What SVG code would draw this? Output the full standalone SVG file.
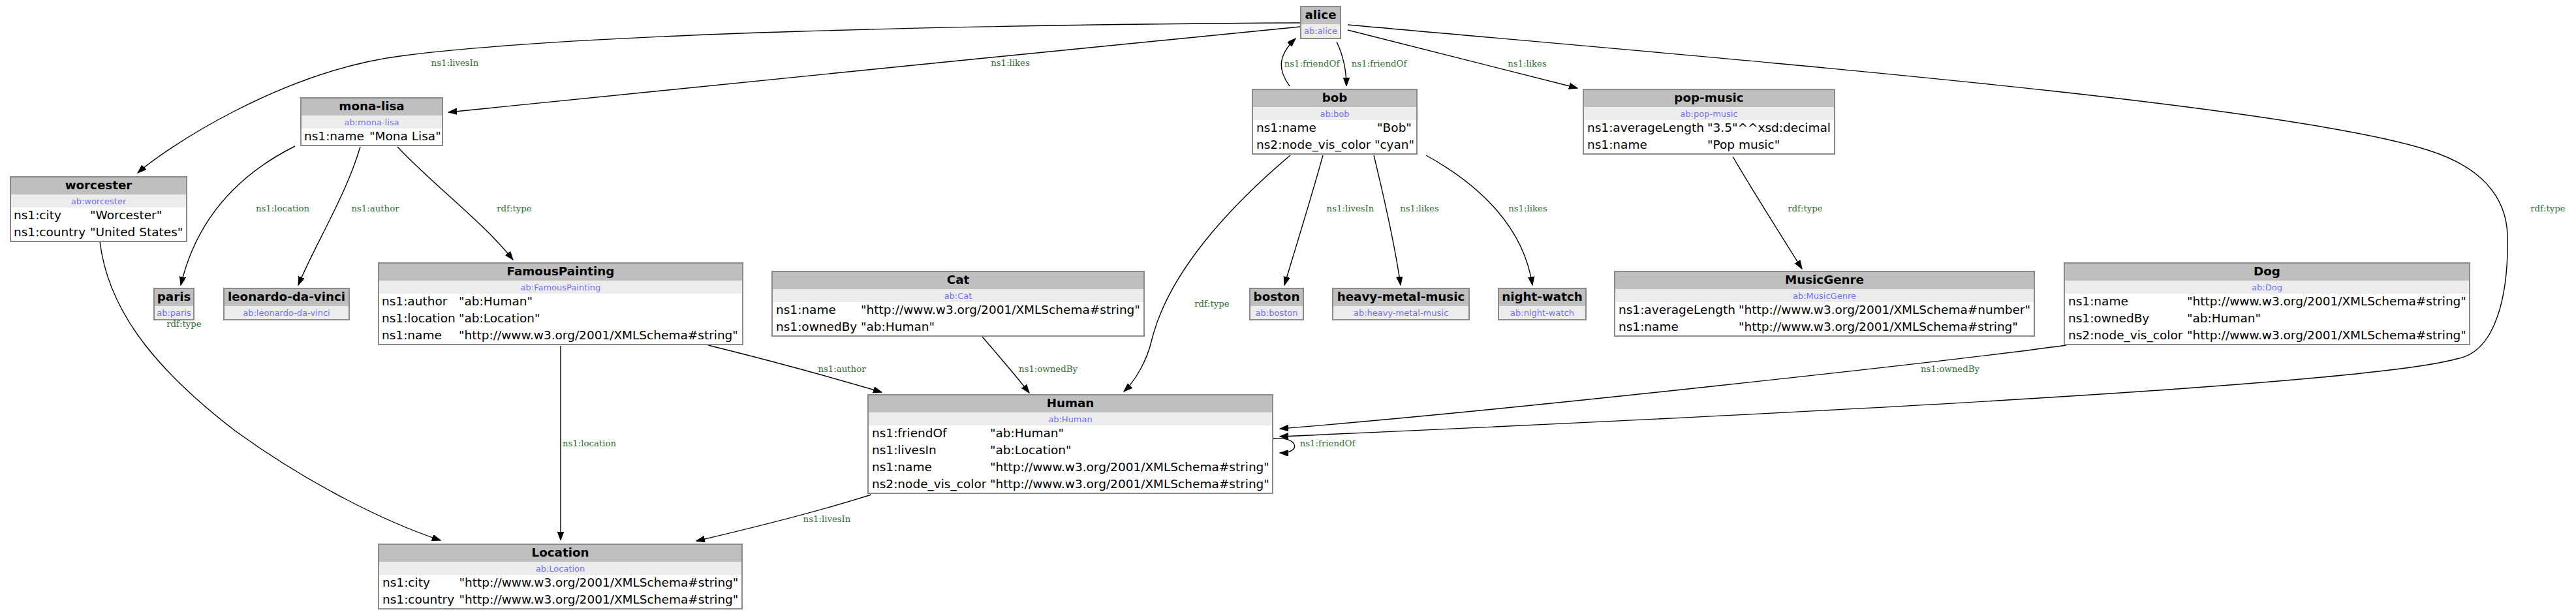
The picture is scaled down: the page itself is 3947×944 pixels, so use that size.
<svg xmlns="http://www.w3.org/2000/svg" width="3947" height="944" viewBox="0 0 3947 944">
<style>
.bg{fill:#fff}
.hd{fill:#bfbfbf}
.sb{fill:#ececec}
.ol{fill:none;stroke:#8a8a8a;stroke-width:2}
.h{font-family:"DejaVu Sans",sans-serif;font-size:18.3px;font-weight:bold;text-anchor:middle;fill:#000}
.s{font-family:"DejaVu Sans",sans-serif;font-size:13px;text-anchor:middle;fill:#7070ff}
.t{font-family:"DejaVu Sans",sans-serif;font-size:18.5px;fill:#000}
.e{fill:none;stroke:#000;stroke-width:1.4;marker-end:url(#ah)}
.l{font-family:"DejaVu Serif",serif;font-size:13.3px;text-anchor:middle;fill:#2f6e2f}
</style>
<defs>
<marker id="ah" markerUnits="userSpaceOnUse" markerWidth="14" markerHeight="10" refX="13" refY="4.7" orient="auto" viewBox="0 0 14 10">
<path d="M0,0 L13,4.7 L0,9.4 z" fill="#000" stroke="#000" stroke-width="1"/>
</marker>
</defs>
<rect width="3947" height="944" fill="#fff"/>
<g id="connectors">
<path class="e" d="M1992,35 C1500,38 900,50 620,85 C430,108 250,230 211,265"/>
<path class="e" d="M1992,41 C1600,78 1000,142 687,172"/>
<path class="e" d="M2048,64 C2058,85 2063,106 2063,132"/>
<path class="e" d="M1976,132 C1960,110 1955,88 1985,59"/>
<path class="e" d="M2065,46 C2200,80 2330,112 2417,135"/>
<path class="e" d="M2065,38 C2700,95 3500,160 3720,230 C3800,255 3840,300 3842,360 C3844,450 3825,540 3764,550 C3600,595 2500,645 1961,669"/>
<path class="e" d="M3166,529 C3000,552 2300,630 1961,657"/>
<path class="e" d="M1977,238 C1880,320 1790,420 1765,520 C1757,555 1738,585 1722,600"/>
<path class="e" d="M2027,238 C2010,300 1985,380 1968,437"/>
<path class="e" d="M2105,238 C2120,300 2138,380 2146,437"/>
<path class="e" d="M2185,238 C2270,285 2335,350 2348,437"/>
<path class="e" d="M2655,240 C2690,300 2735,370 2761,412"/>
<path class="e" d="M452,224 C360,270 300,340 277,437"/>
<path class="e" d="M552,225 C530,300 480,380 457,437"/>
<path class="e" d="M609,225 C660,280 740,340 786,398"/>
<path class="e" d="M153,370 C165,470 230,560 360,660 C470,740 590,800 675,828"/>
<path class="e" d="M859,530 L859,828"/>
<path class="e" d="M1085,529 C1170,550 1280,580 1351,601"/>
<path class="e" d="M1505,516 C1530,545 1560,580 1577,602"/>
<path class="e" d="M1335,758 C1250,785 1140,812 1067,829"/>
<path class="e" d="M1951,672 C1990,668 1995,695 1961,694"/>
<text class="l" x="697" y="101">ns1:livesIn</text>
<text class="l" x="1548" y="101">ns1:likes</text>
<text class="l" x="2010" y="102">ns1:friendOf</text>
<text class="l" x="2113" y="102">ns1:friendOf</text>
<text class="l" x="2340" y="102">ns1:likes</text>
<text class="l" x="3904" y="324">rdf:type</text>
<text class="l" x="282" y="501">rdf:type</text>
<text class="l" x="433" y="324">ns1:location</text>
<text class="l" x="575" y="324">ns1:author</text>
<text class="l" x="788" y="324">rdf:type</text>
<text class="l" x="903" y="684">ns1:location</text>
<text class="l" x="1290" y="570">ns1:author</text>
<text class="l" x="1606" y="570">ns1:ownedBy</text>
<text class="l" x="1857" y="470">rdf:type</text>
<text class="l" x="2069" y="324">ns1:livesIn</text>
<text class="l" x="2175" y="324">ns1:likes</text>
<text class="l" x="2341" y="324">ns1:likes</text>
<text class="l" x="2766" y="324">rdf:type</text>
<text class="l" x="2988" y="570">ns1:ownedBy</text>
<text class="l" x="2034" y="684">ns1:friendOf</text>
<text class="l" x="1267" y="800">ns1:livesIn</text>
</g>
<g id="alice">
<rect class="bg" x="1993" y="10" width="61" height="49"/><rect class="hd" x="1993" y="10" width="61" height="27"/><rect class="sb" x="1993" y="37" width="61" height="22"/><rect class="ol" x="1993" y="10" width="61" height="49"/>
<text class="h" x="2023.5" y="29">alice</text><text class="s" x="2023.5" y="51.5">ab:alice</text>
</g>
<g id="mona-lisa">
<rect class="bg" x="461" y="150" width="217" height="73"/><rect class="hd" x="461" y="150" width="217" height="27"/><rect class="sb" x="461" y="177" width="217" height="20"/><rect class="ol" x="461" y="150" width="217" height="73"/>
<text class="h" x="569.5" y="169">mona-lisa</text><text class="s" x="569.5" y="191.5">ab:mona-lisa</text>
<text class="t" x="466" y="215">ns1:name</text><text class="t" x="566" y="215">"Mona Lisa"</text>
</g>
<g id="worcester">
<rect class="bg" x="16" y="271" width="270" height="99"/><rect class="hd" x="16" y="271" width="270" height="27"/><rect class="sb" x="16" y="298" width="270" height="20"/><rect class="ol" x="16" y="271" width="270" height="99"/>
<text class="h" x="151" y="290">worcester</text><text class="s" x="151" y="312.5">ab:worcester</text>
<text class="t" x="21" y="336">ns1:city</text><text class="t" x="138" y="336">"Worcester"</text>
<text class="t" x="21" y="362">ns1:country</text><text class="t" x="138" y="362">"United States"</text>
</g>
<g id="bob">
<rect class="bg" x="1919" y="137" width="252" height="99"/><rect class="hd" x="1919" y="137" width="252" height="27"/><rect class="sb" x="1919" y="164" width="252" height="20"/><rect class="ol" x="1919" y="137" width="252" height="99"/>
<text class="h" x="2045" y="156">bob</text><text class="s" x="2045" y="178.5">ab:bob</text>
<text class="t" x="1925" y="202">ns1:name</text><text class="t" x="2136.5" y="202" text-anchor="middle">"Bob"</text>
<text class="t" x="1925" y="228">ns2:node_vis_color</text><text class="t" x="2136.5" y="228" text-anchor="middle">"cyan"</text>
</g>
<g id="pop-music">
<rect class="bg" x="2426" y="137" width="385" height="99"/><rect class="hd" x="2426" y="137" width="385" height="27"/><rect class="sb" x="2426" y="164" width="385" height="20"/><rect class="ol" x="2426" y="137" width="385" height="99"/>
<text class="h" x="2618.5" y="156">pop-music</text><text class="s" x="2618.5" y="178.5">ab:pop-music</text>
<text class="t" x="2432" y="202">ns1:averageLength</text><text class="t" x="2616" y="202">"3.5"^^xsd:decimal</text>
<text class="t" x="2432" y="228">ns1:name</text><text class="t" x="2616" y="228">"Pop music"</text>
</g>
<g id="paris">
<rect class="bg" x="236" y="442" width="61" height="48"/><rect class="hd" x="236" y="442" width="61" height="27"/><rect class="sb" x="236" y="469" width="61" height="21"/><rect class="ol" x="236" y="442" width="61" height="48"/>
<text class="h" x="266.5" y="461">paris</text><text class="s" x="266.5" y="483.5">ab:paris</text>
</g>
<g id="leonardo-da-vinci">
<rect class="bg" x="343" y="442" width="192" height="48"/><rect class="hd" x="343" y="442" width="192" height="27"/><rect class="sb" x="343" y="469" width="192" height="21"/><rect class="ol" x="343" y="442" width="192" height="48"/>
<text class="h" x="439" y="461">leonardo-da-vinci</text><text class="s" x="439" y="483.5">ab:leonardo-da-vinci</text>
</g>
<g id="FamousPainting">
<rect class="bg" x="580" y="403" width="558" height="125"/><rect class="hd" x="580" y="403" width="558" height="27"/><rect class="sb" x="580" y="430" width="558" height="20"/><rect class="ol" x="580" y="403" width="558" height="125"/>
<text class="h" x="859" y="422">FamousPainting</text><text class="s" x="859" y="444.5">ab:FamousPainting</text>
<text class="t" x="585" y="468">ns1:author</text><text class="t" x="703" y="468">"ab:Human"</text>
<text class="t" x="585" y="494">ns1:location</text><text class="t" x="703" y="494">"ab:Location"</text>
<text class="t" x="585" y="520">ns1:name</text><text class="t" x="703" y="520">"http://www.w3.org/2001/XMLSchema#string"</text>
</g>
<g id="Cat">
<rect class="bg" x="1183" y="416" width="570" height="99"/><rect class="hd" x="1183" y="416" width="570" height="27"/><rect class="sb" x="1183" y="443" width="570" height="20"/><rect class="ol" x="1183" y="416" width="570" height="99"/>
<text class="h" x="1468" y="435">Cat</text><text class="s" x="1468" y="457.5">ab:Cat</text>
<text class="t" x="1189" y="481">ns1:name</text><text class="t" x="1319" y="481">"http://www.w3.org/2001/XMLSchema#string"</text>
<text class="t" x="1189" y="507">ns1:ownedBy</text><text class="t" x="1319" y="507">"ab:Human"</text>
</g>
<g id="Human">
<rect class="bg" x="1330" y="605" width="620" height="151"/><rect class="hd" x="1330" y="605" width="620" height="27"/><rect class="sb" x="1330" y="632" width="620" height="20"/><rect class="ol" x="1330" y="605" width="620" height="151"/>
<text class="h" x="1640" y="624">Human</text><text class="s" x="1640" y="646.5">ab:Human</text>
<text class="t" x="1336" y="670">ns1:friendOf</text><text class="t" x="1517" y="670">"ab:Human"</text>
<text class="t" x="1336" y="696">ns1:livesIn</text><text class="t" x="1517" y="696">"ab:Location"</text>
<text class="t" x="1336" y="722">ns1:name</text><text class="t" x="1517" y="722">"http://www.w3.org/2001/XMLSchema#string"</text>
<text class="t" x="1336" y="748">ns2:node_vis_color</text><text class="t" x="1517" y="748">"http://www.w3.org/2001/XMLSchema#string"</text>
</g>
<g id="Location">
<rect class="bg" x="580" y="834" width="557" height="99"/><rect class="hd" x="580" y="834" width="557" height="27"/><rect class="sb" x="580" y="861" width="557" height="20"/><rect class="ol" x="580" y="834" width="557" height="99"/>
<text class="h" x="858.5" y="853">Location</text><text class="s" x="858.5" y="875.5">ab:Location</text>
<text class="t" x="586" y="899">ns1:city</text><text class="t" x="703.5" y="899">"http://www.w3.org/2001/XMLSchema#string"</text>
<text class="t" x="586" y="925">ns1:country</text><text class="t" x="703.5" y="925">"http://www.w3.org/2001/XMLSchema#string"</text>
</g>
<g id="boston">
<rect class="bg" x="1915" y="442" width="82" height="48"/><rect class="hd" x="1915" y="442" width="82" height="27"/><rect class="sb" x="1915" y="469" width="82" height="21"/><rect class="ol" x="1915" y="442" width="82" height="48"/>
<text class="h" x="1956" y="461">boston</text><text class="s" x="1956" y="483.5">ab:boston</text>
</g>
<g id="heavy-metal-music">
<rect class="bg" x="2042" y="442" width="209" height="48"/><rect class="hd" x="2042" y="442" width="209" height="27"/><rect class="sb" x="2042" y="469" width="209" height="21"/><rect class="ol" x="2042" y="442" width="209" height="48"/>
<text class="h" x="2146.5" y="461">heavy-metal-music</text><text class="s" x="2146.5" y="483.5">ab:heavy-metal-music</text>
</g>
<g id="night-watch">
<rect class="bg" x="2296" y="442" width="134" height="48"/><rect class="hd" x="2296" y="442" width="134" height="27"/><rect class="sb" x="2296" y="469" width="134" height="21"/><rect class="ol" x="2296" y="442" width="134" height="48"/>
<text class="h" x="2363" y="461">night-watch</text><text class="s" x="2363" y="483.5">ab:night-watch</text>
</g>
<g id="MusicGenre">
<rect class="bg" x="2474" y="416" width="643" height="99"/><rect class="hd" x="2474" y="416" width="643" height="27"/><rect class="sb" x="2474" y="443" width="643" height="20"/><rect class="ol" x="2474" y="416" width="643" height="99"/>
<text class="h" x="2795.5" y="435">MusicGenre</text><text class="s" x="2795.5" y="457.5">ab:MusicGenre</text>
<text class="t" x="2480" y="481">ns1:averageLength</text><text class="t" x="2664" y="481">"http://www.w3.org/2001/XMLSchema#number"</text>
<text class="t" x="2480" y="507">ns1:name</text><text class="t" x="2664" y="507">"http://www.w3.org/2001/XMLSchema#string"</text>
</g>
<g id="Dog">
<rect class="bg" x="3163" y="403" width="621" height="125"/><rect class="hd" x="3163" y="403" width="621" height="27"/><rect class="sb" x="3163" y="430" width="621" height="20"/><rect class="ol" x="3163" y="403" width="621" height="125"/>
<text class="h" x="3473.5" y="422">Dog</text><text class="s" x="3473.5" y="444.5">ab:Dog</text>
<text class="t" x="3169" y="468">ns1:name</text><text class="t" x="3351" y="468">"http://www.w3.org/2001/XMLSchema#string"</text>
<text class="t" x="3169" y="494">ns1:ownedBy</text><text class="t" x="3351" y="494">"ab:Human"</text>
<text class="t" x="3169" y="520">ns2:node_vis_color</text><text class="t" x="3351" y="520">"http://www.w3.org/2001/XMLSchema#string"</text>
</g>
</svg>
